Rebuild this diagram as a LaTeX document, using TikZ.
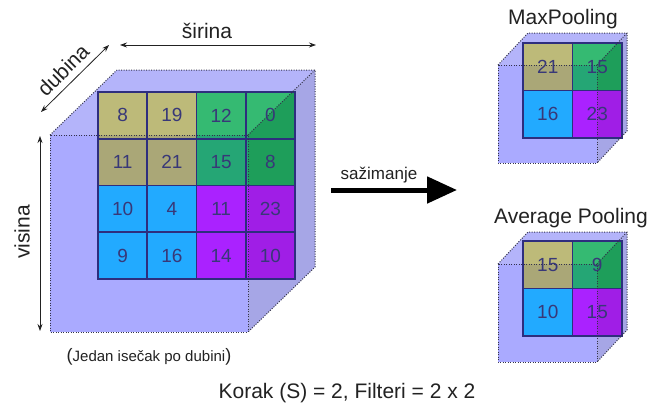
\documentclass[tikz,border=0pt]{standalone}
\usepackage{fontspec}
\setmainfont{Liberation Sans}
\usetikzlibrary{arrows.meta}
\definecolor{faceT}{HTML}{B4B4FA}
\definecolor{faceF}{HTML}{AAAAFF}
\definecolor{faceR}{HTML}{A6A6E6}
\definecolor{oliveT}{HTML}{BDBA79}
\definecolor{oliveF}{HTML}{AAA777}
\definecolor{oliveR}{HTML}{A3A06E}
\definecolor{greenT}{HTML}{35BA72}
\definecolor{greenF}{HTML}{25A675}
\definecolor{greenR}{HTML}{1E9E5A}
\definecolor{cyanT}{HTML}{30B0FF}
\definecolor{cyanF}{HTML}{22AAFF}
\definecolor{cyanR}{HTML}{209AE6}
\definecolor{purpT}{HTML}{B030FF}
\definecolor{purpF}{HTML}{AA22FF}
\definecolor{purpR}{HTML}{A01EE6}
\definecolor{gridc}{HTML}{2E2E7E}
\definecolor{numc}{HTML}{383878}
\definecolor{edgec}{HTML}{33334A}
\definecolor{labc}{HTML}{222222}
\tikzset{
  edgeline/.style={draw=edgec, line width=1pt, dash pattern=on 1pt off 1.5pt},
  gridline/.style={draw=gridc, line width=1.6pt},
  numlabel/.style={text=numc, font=\fontsize{19}{19}\selectfont, inner sep=0pt},
  biglabel/.style={font=\fontsize{21}{21}\selectfont, text=labc, inner sep=0pt},
  dimarrow/.style={draw=labc, line width=0.8pt, {Stealth[length=7pt,width=5pt]}-{Stealth[length=7pt,width=5pt]}},
  bigarrow/.style={draw=black, line width=5pt, -{Triangle[length=30pt,width=26pt]}},
}
\newcommand\cellfills[3]{%
  \foreach \c/\r/\col/\num in \celllist {%
    \edef\cc{\col#3}%
    \fill[fill=\cc] ({#1+\c*\cw},{#2+\r*\ch}) rectangle ++(\cw,\ch);
  }}
\newcommand\poolcube[8]{%
  \pgfmathsetmacro\fxr{#1+#3}\pgfmathsetmacro\fyb{#2+#4}%
  \pgfmathsetmacro\bx{#1+#5}\pgfmathsetmacro\by{#2-#6}%
  \pgfmathsetmacro\bxr{#1+#3+#5}\pgfmathsetmacro\byb{#2+#4-#6}%
  \fill[faceT] (#1,#2)--(\bx,\by)--(\bxr,\by)--(\fxr,#2)--cycle;
  \fill[faceR] (\fxr,#2)--(\bxr,\by)--(\bxr,\byb)--(\fxr,\fyb)--cycle;
  \fill[faceF] (#1,#2) rectangle (\fxr,\fyb);
  \cellfills{#7}{#8}{F}
  \begin{scope}
    \clip (#1,#2)--(\bx,\by)--(\bxr,\by)--(\fxr,#2)--cycle;
    \cellfills{#7}{#8}{T}
  \end{scope}
  \begin{scope}
    \clip (\fxr,#2)--(\bxr,\by)--(\bxr,\byb)--(\fxr,\fyb)--cycle;
    \cellfills{#7}{#8}{R}
  \end{scope}
  \foreach \c/\r/\col/\num in \celllist {%
    \draw[gridline] ({#7+\c*\cw},{#8+\r*\ch}) rectangle ++(\cw,\ch);
  }
  \draw[edgeline] (#1,#2) rectangle (\fxr,\fyb);
  \draw[edgeline] (#1,#2)--(\bx,\by)--(\bxr,\by)--(\bxr,\byb)--(\fxr,\fyb);
  \draw[edgeline] (\fxr,#2)--(\bxr,\by);
  \foreach \c/\r/\col/\num in \celllist {%
    \node[numlabel] (n\c\r-#7-#8) at ({#7+(\c+0.5)*\cw},{#8+(\r+0.5)*\ch}) {\num};
  }
}
\begin{document}
\begin{tikzpicture}[x=1pt,y=-1pt]
\useasboundingbox (0,0) rectangle (664,407);
\fill[white] (0,0) rectangle (664,407);
% big cube
\def\cw{49.25}\def\ch{46.75}
\def\celllist{0/0/olive/8,1/0/olive/19,2/0/green/12,3/0/green/0,
0/1/olive/11,1/1/olive/21,2/1/green/15,3/1/green/8,
0/2/cyan/10,1/2/cyan/4,2/2/purp/11,3/2/purp/23,
0/3/cyan/9,1/3/cyan/16,2/3/purp/14,3/3/purp/10}
\poolcube{50}{135}{198}{197}{67}{65}{98}{92}
% max pooling
\def\cw{49.5}\def\ch{47.5}
\def\celllist{0/0/olive/21,1/0/green/15,0/1/cyan/16,1/1/purp/23}
\poolcube{498}{65}{99}{98}{30}{32}{523}{43}
% average pooling
\def\celllist{0/0/olive/15,1/0/green/9,0/1/cyan/10,1/1/purp/15}
\poolcube{498}{264}{99}{98}{30}{32}{523}{241}
% dimension arrows
\coordinate (sL) at (120,45);
\coordinate (sR) at (316,45);
\draw[dimarrow] (sL) -- (sR);
\node[biglabel] (sirina) at (207,31) {širina};
\coordinate (dA) at (41,112);
\coordinate (dB) at (109,45);
\draw[dimarrow] (dA) -- (dB);
\node[biglabel, rotate=45] (dubina) at (63,70) {dubina};
\coordinate (vA) at (40,136);
\coordinate (vB) at (40,331);
\draw[dimarrow] (vA) -- (vB);
\node[biglabel, rotate=90] (visina) at (22,232) {visina};
% pooling arrow
\coordinate (pA) at (331,190);
\coordinate (pB) at (457,190);
\draw[bigarrow] (pA) -- (pB);
\node[font=\fontsize{17}{17}\selectfont, text=labc, inner sep=0pt] (sazimanje) at (379,175) {sažimanje};
% labels
\node[biglabel] (maxp) at (563,19) {MaxPooling};
\node[biglabel] (avgp) at (571,218) {Average Pooling};
\node[font=\fontsize{15}{15}\selectfont, text=labc, inner sep=0pt] (slice) at (149,357)
  {{\fontsize{18}{18}\selectfont(}Jedan isečak po dubini{\fontsize{18}{18}\selectfont)}};
\node[biglabel] (korak) at (347,393) {Korak (S) = 2, Filteri = 2 x 2};
\end{tikzpicture}
\end{document}
